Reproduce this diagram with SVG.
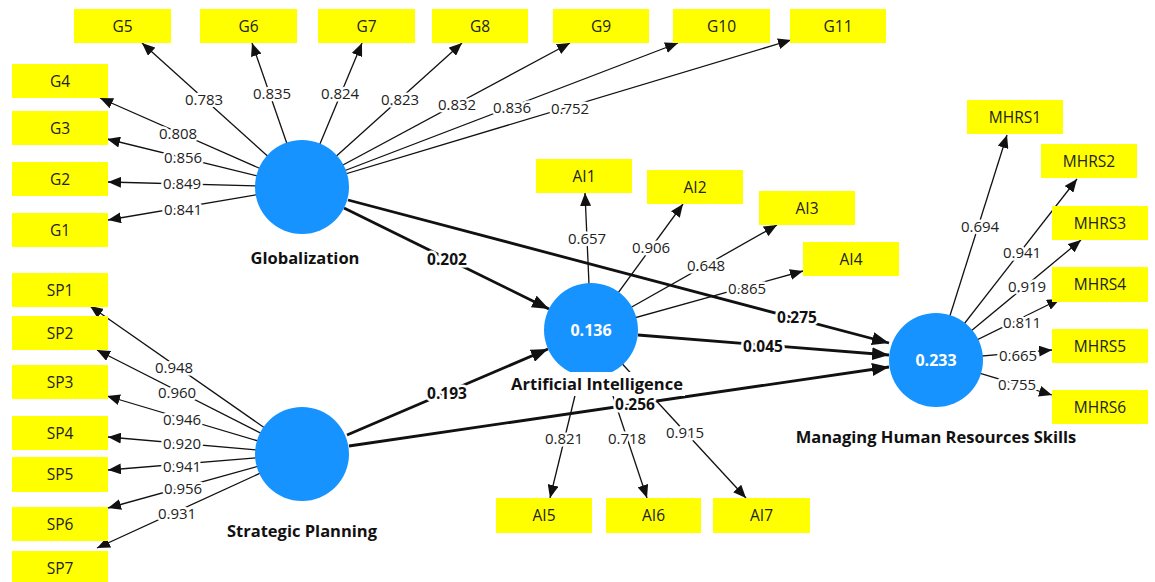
<svg xmlns="http://www.w3.org/2000/svg" width="1155" height="582" viewBox="0 0 1155 582">
<style>
.box{fill:#ffff00}
.bt{font-family:"Open Sans","Noto Sans","DejaVu Sans",sans-serif;font-size:15.5px;fill:#222;text-anchor:middle}
.lv{fill:#1793ff}
.lvt{font-family:"Open Sans","Noto Sans","DejaVu Sans",sans-serif;font-size:16px;font-weight:bold;fill:#fff;text-anchor:middle}
.nl{font-family:"Open Sans","Noto Sans","DejaVu Sans",sans-serif;font-size:16.5px;font-weight:bold;fill:#111;text-anchor:middle;stroke:#fff;stroke-width:5;stroke-linejoin:round;paint-order:stroke}
.th{stroke:#111;stroke-width:1.3;fill:none;marker-end:url(#a)}
.tk{stroke:#111;stroke-width:2.8;fill:none;marker-end:url(#b)}
.ll{font-family:"Open Sans","Noto Sans","DejaVu Sans",sans-serif;font-size:15px;fill:#222;text-anchor:middle;stroke:#fff;stroke-width:5;stroke-linejoin:round;paint-order:stroke}
.pl{font-family:"Open Sans","Noto Sans","DejaVu Sans",sans-serif;font-size:15.5px;font-weight:bold;fill:#111;text-anchor:middle;stroke:#fff;stroke-width:5;stroke-linejoin:round;paint-order:stroke}
</style>
<defs>
<marker id="a" markerUnits="userSpaceOnUse" markerWidth="13" markerHeight="11" refX="13" refY="5.5" orient="auto"><path d="M0,0 L13,5.5 L0,11 z" fill="#111"/></marker>
<marker id="b" markerUnits="userSpaceOnUse" markerWidth="17" markerHeight="13" refX="17" refY="6.5" orient="auto"><path d="M0,0 L17,6.5 L0,13 z" fill="#111"/></marker>
</defs>
<rect width="1155" height="582" fill="#fff"/>
<g id="connectors">
<line class="th" x1="302" y1="187" x2="142" y2="43"/>
<line class="th" x1="302" y1="187" x2="252" y2="43"/>
<line class="th" x1="302" y1="187" x2="362" y2="43"/>
<line class="th" x1="302" y1="187" x2="462" y2="43"/>
<line class="th" x1="302" y1="187" x2="570" y2="43"/>
<line class="th" x1="302" y1="187" x2="678" y2="43"/>
<line class="th" x1="302" y1="187" x2="791" y2="40"/>
<line class="th" x1="302" y1="187" x2="100" y2="98"/>
<line class="th" x1="302" y1="187" x2="107" y2="139"/>
<line class="th" x1="302" y1="187" x2="108" y2="182"/>
<line class="th" x1="302" y1="187" x2="108" y2="220"/>
<line class="th" x1="302" y1="454" x2="90" y2="306"/>
<line class="th" x1="302" y1="454" x2="97" y2="350"/>
<line class="th" x1="302" y1="454" x2="107" y2="396"/>
<line class="th" x1="302" y1="454" x2="108" y2="437"/>
<line class="th" x1="302" y1="454" x2="108" y2="470"/>
<line class="th" x1="302" y1="454" x2="108" y2="508"/>
<line class="th" x1="302" y1="454" x2="97" y2="548"/>
<line class="th" x1="591" y1="330" x2="585" y2="193"/>
<line class="th" x1="591" y1="330" x2="683" y2="204"/>
<line class="th" x1="591" y1="330" x2="777" y2="225"/>
<line class="th" x1="591" y1="330" x2="803" y2="271"/>
<line class="th" x1="591" y1="330" x2="550" y2="498"/>
<line class="th" x1="591" y1="330" x2="647" y2="498"/>
<line class="th" x1="591" y1="330" x2="746" y2="498"/>
<line class="th" x1="936" y1="360" x2="1007" y2="135"/>
<line class="th" x1="936" y1="360" x2="1077" y2="179"/>
<line class="th" x1="936" y1="360" x2="1081" y2="240"/>
<line class="th" x1="936" y1="360" x2="1060" y2="299"/>
<line class="th" x1="936" y1="360" x2="1052" y2="350"/>
<line class="th" x1="936" y1="360" x2="1052" y2="395"/>
<line class="tk" x1="344" y1="208" x2="549" y2="309"/>
<line class="tk" x1="348" y1="200" x2="889" y2="343"/>
<line class="tk" x1="347" y1="435" x2="548" y2="349"/>
<line class="tk" x1="638" y1="335" x2="889" y2="355"/>
<line class="tk" x1="349" y1="446" x2="889" y2="367"/>
<text class="ll" x="204" y="105">0.783</text>
<text class="ll" x="272" y="99">0.835</text>
<text class="ll" x="340" y="99">0.824</text>
<text class="ll" x="400" y="105">0.823</text>
<text class="ll" x="457" y="110">0.832</text>
<text class="ll" x="512" y="113">0.836</text>
<text class="ll" x="570" y="114">0.752</text>
<text class="ll" x="178" y="139">0.808</text>
<text class="ll" x="183" y="163">0.856</text>
<text class="ll" x="182" y="189">0.849</text>
<text class="ll" x="183" y="215">0.841</text>
<text class="ll" x="174" y="373">0.948</text>
<text class="ll" x="177" y="398">0.960</text>
<text class="ll" x="182" y="425">0.946</text>
<text class="ll" x="182" y="449">0.920</text>
<text class="ll" x="182" y="472">0.941</text>
<text class="ll" x="183" y="494">0.956</text>
<text class="ll" x="177" y="519">0.931</text>
<text class="ll" x="587" y="244">0.657</text>
<text class="ll" x="651" y="253">0.906</text>
<text class="ll" x="706" y="271">0.648</text>
<text class="ll" x="747" y="294">0.865</text>
<text class="ll" x="564" y="444">0.821</text>
<text class="ll" x="627" y="444">0.718</text>
<text class="ll" x="685" y="438">0.915</text>
<text class="ll" x="980" y="232">0.694</text>
<text class="ll" x="1022" y="258">0.941</text>
<text class="ll" x="1027" y="292">0.919</text>
<text class="ll" x="1022" y="328">0.811</text>
<text class="ll" x="1018" y="361">0.665</text>
<text class="ll" x="1017" y="390">0.755</text>
<text class="pl" x="447" y="265">0.202</text>
<text class="pl" x="447" y="399">0.193</text>
<text class="pl" x="797" y="323">0.275</text>
<text class="pl" x="763" y="352">0.045</text>
</g>
<g id="G5"><rect class="box" x="74" y="9" width="97" height="34"/><text class="bt" x="122.5" y="31.5">G5</text></g>
<g id="G6"><rect class="box" x="200" y="9" width="97" height="34"/><text class="bt" x="248.5" y="31.5">G6</text></g>
<g id="G7"><rect class="box" x="318" y="9" width="97" height="34"/><text class="bt" x="366.5" y="31.5">G7</text></g>
<g id="G8"><rect class="box" x="432" y="9" width="96" height="34"/><text class="bt" x="480" y="31.5">G8</text></g>
<g id="G9"><rect class="box" x="553" y="9" width="96" height="34"/><text class="bt" x="601" y="31.5">G9</text></g>
<g id="G10"><rect class="box" x="673" y="9" width="97" height="34"/><text class="bt" x="721.5" y="31.5">G10</text></g>
<g id="G11"><rect class="box" x="790" y="9" width="96" height="34"/><text class="bt" x="838" y="31.5">G11</text></g>
<g id="G4"><rect class="box" x="12" y="64" width="96" height="34"/><text class="bt" x="60" y="86.5">G4</text></g>
<g id="G3"><rect class="box" x="12" y="111" width="96" height="34"/><text class="bt" x="60" y="133.5">G3</text></g>
<g id="G2"><rect class="box" x="12" y="162" width="96" height="34"/><text class="bt" x="60" y="184.5">G2</text></g>
<g id="G1"><rect class="box" x="12" y="213" width="96" height="34"/><text class="bt" x="60" y="235.5">G1</text></g>
<g id="SP1"><rect class="box" x="12" y="273" width="96" height="34"/><text class="bt" x="60" y="295.5">SP1</text></g>
<g id="SP2"><rect class="box" x="12" y="316" width="96" height="34"/><text class="bt" x="60" y="338.5">SP2</text></g>
<g id="SP3"><rect class="box" x="12" y="365" width="96" height="34"/><text class="bt" x="60" y="387.5">SP3</text></g>
<g id="SP4"><rect class="box" x="12" y="416" width="96" height="34"/><text class="bt" x="60" y="438.5">SP4</text></g>
<g id="SP5"><rect class="box" x="12" y="457" width="96" height="35"/><text class="bt" x="60" y="480">SP5</text></g>
<g id="SP6"><rect class="box" x="12" y="507" width="96" height="34"/><text class="bt" x="60" y="529.5">SP6</text></g>
<g id="SP7"><rect class="box" x="12" y="551" width="96" height="34"/><text class="bt" x="60" y="573.5">SP7</text></g>
<g id="AI1"><rect class="box" x="536" y="159" width="96" height="34"/><text class="bt" x="584" y="181.5">AI1</text></g>
<g id="AI2"><rect class="box" x="647" y="170" width="96" height="34"/><text class="bt" x="695" y="192.5">AI2</text></g>
<g id="AI3"><rect class="box" x="759" y="191" width="96" height="34"/><text class="bt" x="807" y="213.5">AI3</text></g>
<g id="AI4"><rect class="box" x="803" y="242" width="96" height="34"/><text class="bt" x="851" y="264.5">AI4</text></g>
<g id="AI5"><rect class="box" x="496" y="498" width="96" height="35"/><text class="bt" x="544" y="521">AI5</text></g>
<g id="AI6"><rect class="box" x="606" y="498" width="95" height="35"/><text class="bt" x="653.5" y="521">AI6</text></g>
<g id="AI7"><rect class="box" x="713" y="498" width="97" height="35"/><text class="bt" x="761.5" y="521">AI7</text></g>
<g id="MHRS1"><rect class="box" x="967" y="100" width="96" height="34"/><text class="bt" x="1015" y="122.5">MHRS1</text></g>
<g id="MHRS2"><rect class="box" x="1041" y="144" width="96" height="34"/><text class="bt" x="1089" y="166.5">MHRS2</text></g>
<g id="MHRS3"><rect class="box" x="1052" y="206" width="96" height="34"/><text class="bt" x="1100" y="228.5">MHRS3</text></g>
<g id="MHRS4"><rect class="box" x="1052" y="267" width="96" height="35"/><text class="bt" x="1100" y="290">MHRS4</text></g>
<g id="MHRS5"><rect class="box" x="1052" y="329" width="96" height="34"/><text class="bt" x="1100" y="351.5">MHRS5</text></g>
<g id="MHRS6"><rect class="box" x="1052" y="390" width="96" height="34"/><text class="bt" x="1100" y="412.5">MHRS6</text></g>
<g id="Globalization"><circle class="lv" cx="302" cy="187" r="47"/><text class="nl" x="305" y="264">Globalization</text></g>
<g id="StrategicPlanning"><circle class="lv" cx="302" cy="454" r="47"/><text class="nl" x="302" y="537">Strategic Planning</text></g>
<g id="ArtificialIntelligence"><circle class="lv" cx="591" cy="330" r="47"/><text class="lvt" x="591" y="336">0.136</text><rect x="509" y="372" width="176" height="24" fill="#fff"/><text class="nl" x="597" y="390">Artificial Intelligence</text></g>
<g id="MHRS"><circle class="lv" cx="936" cy="360" r="47"/><text class="lvt" x="936" y="366">0.233</text><text class="nl" x="936" y="443">Managing Human Resources Skills</text></g>
<text class="pl" x="635" y="410">0.256</text>
</svg>
